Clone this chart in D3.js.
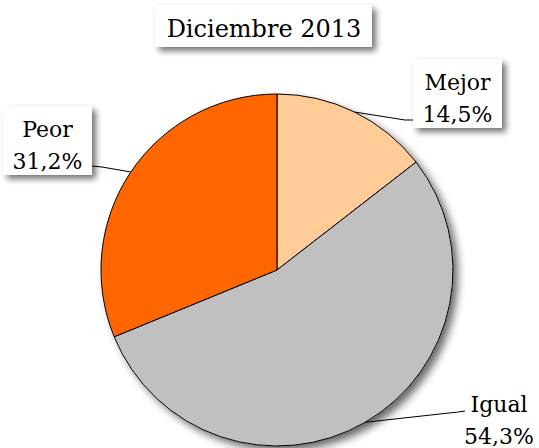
<!DOCTYPE html>
<html>
<head>
<meta charset="utf-8">
<script src="https://cdn.jsdelivr.net/npm/d3@7/dist/d3.min.js"></script>
<style>
  body { margin: 0; background: #fff; }
  text { font-family: "DejaVu Serif", serif; fill: #000; }
</style>
</head>
<body>
<div id="chart"></div>
<script>
const title = "Diciembre 2013";
const categories = ["Mejor", "Igual", "Peor"];
const values = [14.5, 54.3, 31.2];
const colors = ["#FFCC99", "#C0C0C0", "#FF6600"];

const width = 539, height = 448;
const cx = 277, cy = 270, radius = 176;

const svg = d3.select("#chart").append("svg")
    .attr("width", width)
    .attr("height", height);

const defs = svg.append("defs");
function addShadow(id, blur, off, alpha) {
    const f = defs.append("filter")
        .attr("id", id)
        .attr("x", "-20%").attr("y", "-20%")
        .attr("width", "150%").attr("height", "150%");
    f.append("feGaussianBlur").attr("in", "SourceAlpha").attr("stdDeviation", blur);
    f.append("feOffset").attr("dx", off).attr("dy", off);
    f.append("feComponentTransfer").append("feFuncA").attr("type", "linear").attr("slope", alpha);
    const m = f.append("feMerge");
    m.append("feMergeNode");
    m.append("feMergeNode").attr("in", "SourceGraphic");
}
addShadow("shadow", 3, 4, 0.55);
addShadow("pieShadow", 4, 5, 0.6);

const data = categories.map((c, i) => ({ name: c, value: values[i], color: colors[i] }));

const pie = d3.pie().sort(null).value(d => d.value);
const arcs = pie(data);
const arc = d3.arc().innerRadius(0).outerRadius(radius);

const g = svg.append("g").attr("transform", `translate(${cx},${cy})`);

// sombra del pastel
g.append("circle")
    .attr("r", radius)
    .attr("fill", "#fff")
    .attr("filter", "url(#pieShadow)");

g.selectAll("path.slice")
    .data(arcs)
    .join("path")
    .attr("class", "slice")
    .attr("d", arc)
    .attr("fill", d => d.data.color)
    .attr("stroke", "#000")
    .attr("stroke-width", 1);

// etiquetas: posición de cada caja
const labelBoxes = {
    "Mejor": { x: 413, y: 59, w: 89, h: 69, elbow: [405, 120], end: [413, 120] },
    "Peor":  { x: 3, y: 106, w: 89, h: 69, elbow: [102, 167], end: [92, 166] },
    "Igual": { x: 459, y: 381, w: 80, h: 70, elbow: [458, 412], end: [465, 411] }
};

const fmt = v => d3.format(".1f")(v).replace(".", ",") + "%";

arcs.forEach(d => {
    const b = labelBoxes[d.data.name];
    const mid = (d.startAngle + d.endAngle) / 2;
    const p0 = [cx + radius * Math.sin(mid), cy - radius * Math.cos(mid)];

    svg.append("rect")
        .attr("x", b.x).attr("y", b.y)
        .attr("width", b.w).attr("height", b.h)
        .attr("fill", "#fff")
        .attr("filter", d.data.name === "Igual" ? null : "url(#shadow)");

    svg.append("polyline")
        .attr("points", [p0, b.elbow, b.end].map(p => p.join(",")).join(" "))
        .attr("fill", "none")
        .attr("stroke", "#000")
        .attr("stroke-width", 1.1);

    const tx = b.x + b.w / 2;
    svg.append("text")
        .attr("x", tx).attr("y", b.y + 31)
        .attr("text-anchor", "middle")
        .attr("font-size", 22)
        .text(d.data.name);
    svg.append("text")
        .attr("x", tx).attr("y", b.y + 63)
        .attr("text-anchor", "middle")
        .attr("font-size", 22)
        .text(fmt(d.data.value));
});

// título
svg.append("rect")
    .attr("x", 155).attr("y", 5)
    .attr("width", 217).attr("height", 42)
    .attr("fill", "#fff")
    .attr("filter", "url(#shadow)");
svg.append("text")
    .attr("x", 264).attr("y", 37)
    .attr("text-anchor", "middle")
    .attr("font-size", 24)
    .text(title);
</script>
</body>
</html>
